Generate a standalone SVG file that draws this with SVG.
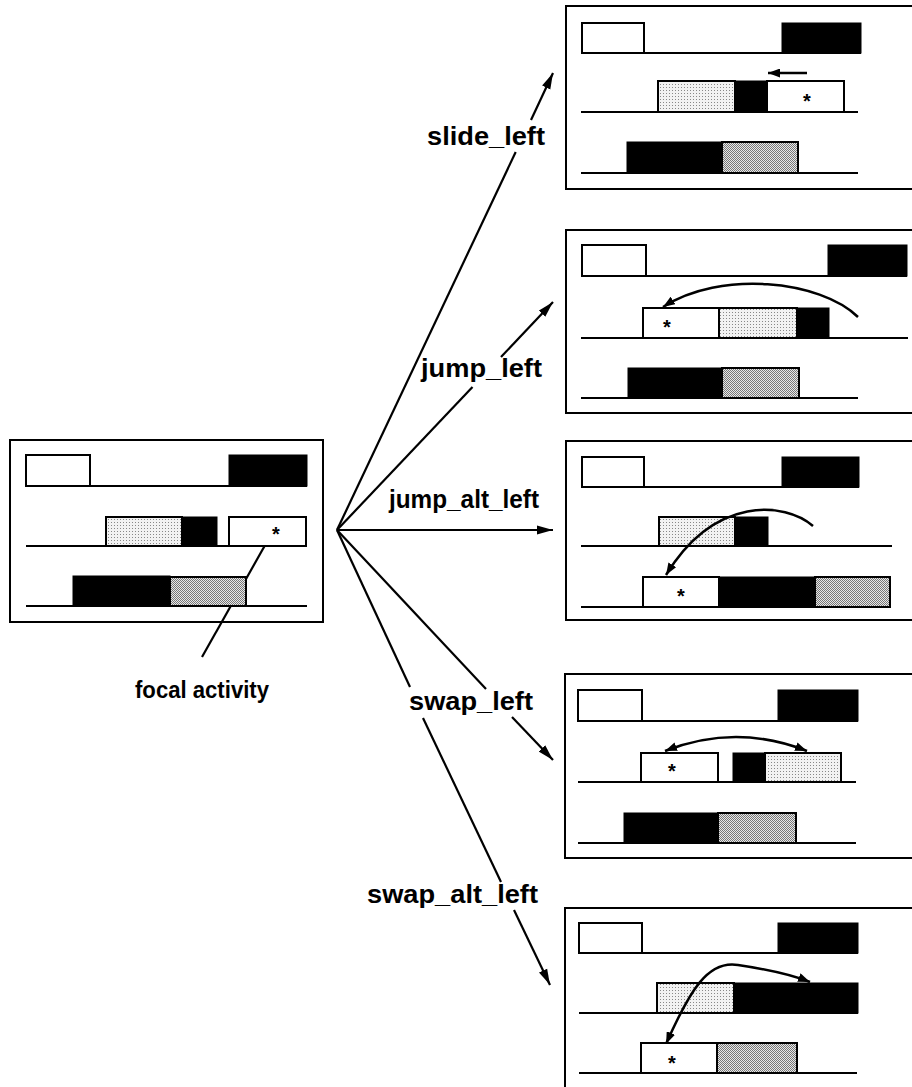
<svg xmlns="http://www.w3.org/2000/svg" width="912" height="1087" viewBox="0 0 912 1087">
<style>
.frame{fill:none;stroke:#000;stroke-width:2}
.w{fill:#fff;stroke:#000;stroke-width:2}
.b{fill:#000;stroke:#000;stroke-width:1}
.s1{fill:url(#light);stroke:#000;stroke-width:2}
.s2{fill:url(#dense);stroke:#000;stroke-width:2}
.base{stroke:#000;stroke-width:2;fill:none}
.star{font-family:"Liberation Sans",Arial,sans-serif;font-weight:bold;font-size:20px;text-anchor:middle}
.lbl{font-family:"Liberation Sans",Arial,sans-serif;font-weight:bold;font-size:25px;fill:#000}
.con{stroke:#000;stroke-width:2.2;fill:none}
.mv{stroke:#000;stroke-width:2.5;fill:none}
</style>
<defs>
<pattern id="light" width="3" height="3" patternUnits="userSpaceOnUse">
<rect width="3" height="3" fill="#f2f2f2"/>
<rect x="0" y="0" width="1" height="1" fill="#888"/>
</pattern>
<pattern id="dense" width="2" height="2" patternUnits="userSpaceOnUse">
<rect width="2" height="2" fill="#e8e8e8"/>
<rect x="0" y="0" width="1" height="1" fill="#777"/>
<rect x="1" y="1" width="1" height="1" fill="#777"/>
</pattern>
<marker id="ah" markerUnits="userSpaceOnUse" markerWidth="17" markerHeight="10" refX="16" refY="5" orient="auto">
<path d="M0,0.5 L16,5 L0,9.5 z" fill="#000"/>
</marker>
<marker id="sh" markerUnits="userSpaceOnUse" markerWidth="13" markerHeight="9" refX="12" refY="4.5" orient="auto">
<path d="M0,0 L12,4.5 L0,9 z" fill="#000"/>
</marker>
<marker id="shs" markerUnits="userSpaceOnUse" markerWidth="13" markerHeight="9" refX="1" refY="4.5" orient="auto">
<path d="M13,0 L1,4.5 L13,9 z" fill="#000"/>
</marker>
</defs>

<g id="connectors">
<polyline class="con" points="337,530 515.7,152"/>
<line class="con" x1="531" y1="120" x2="553" y2="73" marker-end="url(#ah)"/>
<polyline class="con" points="337,530 472.5,387"/>
<line class="con" x1="501" y1="357" x2="553" y2="302" marker-end="url(#ah)"/>
<line class="con" x1="337" y1="530" x2="553" y2="530" marker-end="url(#ah)"/>
<polyline class="con" points="337,530 486,689"/>
<line class="con" x1="512" y1="717" x2="553" y2="760" marker-end="url(#ah)"/>
<polyline class="con" points="337,530 410,687"/>
<polyline class="con" points="423,718 501,882"/>
<line class="con" x1="514" y1="910" x2="550" y2="985" marker-end="url(#ah)"/>
<line class="con" x1="268" y1="540" x2="202" y2="657"/>
</g>

<g id="labels">
<text class="lbl" x="427" y="145" textLength="118" lengthAdjust="spacingAndGlyphs">slide_left</text>
<text class="lbl" x="421" y="377" textLength="121" lengthAdjust="spacingAndGlyphs">jump_left</text>
<text class="lbl" x="389" y="508" textLength="150" lengthAdjust="spacingAndGlyphs">jump_alt_left</text>
<text class="lbl" x="409" y="710" textLength="124" lengthAdjust="spacingAndGlyphs">swap_left</text>
<text class="lbl" x="367" y="903" textLength="171" lengthAdjust="spacingAndGlyphs">swap_alt_left</text>
<text class="lbl" x="135" y="698" style="font-size:24px" textLength="134" lengthAdjust="spacingAndGlyphs">focal activity</text>
</g>

<g id="node-initial">
<rect class="frame" x="10" y="440" width="313" height="182"/>
<line class="base" x1="26" y1="486" x2="307" y2="486"/>
<rect class="w" x="26" y="455" width="64" height="31"/>
<rect class="b" x="229" y="455" width="78" height="31"/>
<line class="base" x1="26" y1="546" x2="307" y2="546"/>
<rect class="s1" x="106" y="517" width="76" height="29"/>
<rect class="b" x="182" y="517" width="35" height="29"/>
<rect class="w" x="229" y="517" width="77" height="29"/>
<text class="star" x="276" y="541">*</text>
<line class="base" x1="26" y1="606" x2="307" y2="606"/>
<rect class="b" x="73" y="576" width="97" height="30"/>
<rect class="s2" x="170" y="577" width="76" height="29"/>
</g>

<g id="node-slide-left">
<rect class="frame" x="566" y="6" width="360" height="183"/>
<line class="base" x1="582" y1="53" x2="861" y2="53"/>
<rect class="w" x="582" y="23" width="62" height="30"/>
<rect class="b" x="782" y="23" width="79" height="30"/>
<line class="base" x1="581" y1="112" x2="858" y2="112"/>
<rect class="s1" x="658" y="81" width="77" height="31"/>
<rect class="b" x="735" y="81" width="32" height="31"/>
<rect class="w" x="767" y="81" width="77" height="31"/>
<text class="star" x="807" y="108">*</text>
<line class="mv" x1="807" y1="73" x2="768" y2="73" marker-end="url(#sh)"/>
<line class="base" x1="581" y1="173" x2="858" y2="173"/>
<rect class="b" x="627" y="142" width="95" height="31"/>
<rect class="s2" x="722" y="142" width="76" height="31"/>
</g>

<g id="node-jump-left">
<rect class="frame" x="566" y="230" width="360" height="183"/>
<line class="base" x1="582" y1="276" x2="907" y2="276"/>
<rect class="w" x="582" y="245" width="64" height="31"/>
<rect class="b" x="828" y="245" width="79" height="31"/>
<line class="base" x1="581" y1="338" x2="908" y2="338"/>
<rect class="w" x="643" y="308" width="76" height="30"/>
<text class="star" x="667" y="334">*</text>
<rect class="s1" x="719" y="308" width="78" height="30"/>
<rect class="b" x="797" y="308" width="32" height="30"/>
<path class="mv" d="M858,317 C820,280 720,270 663,307" marker-end="url(#sh)"/>
<line class="base" x1="581" y1="398" x2="858" y2="398"/>
<rect class="b" x="628" y="368" width="94" height="30"/>
<rect class="s2" x="722" y="368" width="77" height="30"/>
</g>

<g id="node-jump-alt-left">
<rect class="frame" x="566" y="441" width="360" height="179"/>
<line class="base" x1="582" y1="487" x2="859" y2="487"/>
<rect class="w" x="582" y="457" width="62" height="30"/>
<rect class="b" x="782" y="457" width="77" height="30"/>
<line class="base" x1="581" y1="546" x2="892" y2="546"/>
<rect class="s1" x="659" y="517" width="76" height="29"/>
<rect class="b" x="735" y="517" width="33" height="29"/>
<path class="mv" d="M813,526 C785,502 715,495 666,575" marker-end="url(#sh)"/>
<line class="base" x1="581" y1="607" x2="890" y2="607"/>
<rect class="w" x="643" y="577" width="76" height="30"/>
<text class="star" x="681" y="603">*</text>
<rect class="b" x="719" y="577" width="96" height="30"/>
<rect class="s2" x="815" y="577" width="75" height="30"/>
</g>

<g id="node-swap-left">
<rect class="frame" x="565" y="674" width="360" height="184"/>
<line class="base" x1="578" y1="721" x2="858" y2="721"/>
<rect class="w" x="578" y="690" width="64" height="31"/>
<rect class="b" x="778" y="690" width="80" height="31"/>
<line class="base" x1="578" y1="782" x2="856" y2="782"/>
<rect class="w" x="641" y="753" width="77" height="29"/>
<text class="star" x="672" y="778">*</text>
<rect class="b" x="733" y="753" width="32" height="29"/>
<rect class="s1" x="765" y="753" width="76" height="29"/>
<path class="mv" d="M665,751 Q736,723 807,751" marker-start="url(#shs)" marker-end="url(#sh)"/>
<line class="base" x1="578" y1="843" x2="856" y2="843"/>
<rect class="b" x="624" y="813" width="94" height="30"/>
<rect class="s2" x="718" y="813" width="78" height="30"/>
</g>

<g id="node-swap-alt-left">
<rect class="frame" x="565" y="908" width="360" height="200"/>
<line class="base" x1="579" y1="953" x2="858" y2="953"/>
<rect class="w" x="579" y="923" width="63" height="30"/>
<rect class="b" x="778" y="923" width="80" height="30"/>
<line class="base" x1="579" y1="1013" x2="858" y2="1013"/>
<rect class="s1" x="657" y="983" width="77" height="30"/>
<rect class="b" x="734" y="983" width="124" height="30"/>
<path class="mv" d="M666,1044 C690,990 708,960 738,965 C765,969 790,974 810,982" marker-start="url(#shs)" marker-end="url(#sh)"/>
<line class="base" x1="579" y1="1073" x2="857" y2="1073"/>
<rect class="w" x="641" y="1043" width="76" height="30"/>
<text class="star" x="672" y="1070">*</text>
<rect class="s2" x="717" y="1043" width="80" height="30"/>
</g>
</svg>
